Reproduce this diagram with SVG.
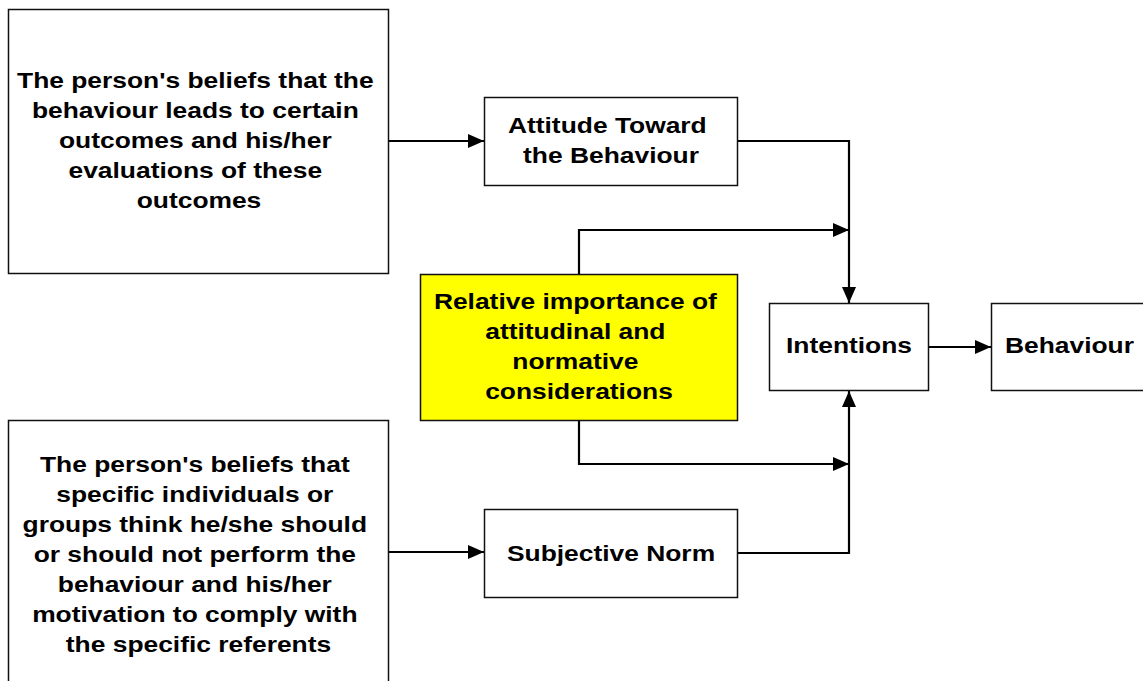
<svg xmlns="http://www.w3.org/2000/svg" width="1143" height="681" viewBox="0 0 1143 681">
<style>
.box{fill:#fff;stroke:#111;stroke-width:1.5}
.yel{fill:#ffff00;stroke:#111;stroke-width:1.5}
.t{font-family:"Liberation Sans",Arial,sans-serif;font-weight:bold;font-size:22px;fill:#000;text-anchor:middle}
.c{fill:none;stroke:#000;stroke-width:2.2}
</style>
<defs>
<marker id="ah" markerUnits="userSpaceOnUse" markerWidth="17" markerHeight="15" refX="16" refY="7" orient="auto" viewBox="0 0 17 15">
<path d="M0,0 L16,7 L0,14 z" fill="#000"/>
</marker>
</defs>
<rect width="1143" height="681" fill="#fff"/>
<g id="connectors">
<path class="c" d="M389,141 H484" marker-end="url(#ah)"/>
<path class="c" d="M389,552 H484" marker-end="url(#ah)"/>
<path class="c" d="M738,141 H849 V303" marker-end="url(#ah)"/>
<path class="c" d="M738,553 H849 V391" marker-end="url(#ah)"/>
<path class="c" d="M579,274 V230 H849" marker-end="url(#ah)"/>
<path class="c" d="M579,421 V464 H849" marker-end="url(#ah)"/>
<path class="c" d="M929,347 H991" marker-end="url(#ah)"/>
</g>
<g id="beliefs-outcomes">
<rect class="box" x="8.5" y="9.5" width="380" height="264"/>
<text class="t" transform="translate(199 0) scale(1.2 1)">
<tspan x="0" y="88">The person's beliefs that the</tspan>
<tspan x="0" y="118">behaviour leads to certain</tspan>
<tspan x="0" y="148">outcomes and his/her</tspan>
<tspan x="0" y="178">evaluations of these</tspan>
<tspan x="0" y="208">outcomes</tspan>
</text>
</g>
<g id="beliefs-referents">
<rect class="box" x="8.5" y="420.5" width="380" height="280"/>
<text class="t" transform="translate(198.5 0) scale(1.2 1)">
<tspan x="0" y="472">The person's beliefs that</tspan>
<tspan x="0" y="502">specific individuals or</tspan>
<tspan x="0" y="532">groups think he/she should</tspan>
<tspan x="0" y="562">or should not perform the</tspan>
<tspan x="0" y="592">behaviour and his/her</tspan>
<tspan x="0" y="622">motivation to comply with</tspan>
<tspan x="0" y="652">the specific referents</tspan>
</text>
</g>
<g id="attitude">
<rect class="box" x="484.5" y="97.5" width="253" height="88"/>
<text class="t" transform="translate(611 0) scale(1.2 1)">
<tspan x="0" y="133">Attitude Toward</tspan>
<tspan x="0" y="163">the Behaviour</tspan>
</text>
</g>
<g id="relative-importance">
<rect class="yel" x="420.5" y="274.5" width="317" height="146"/>
<text class="t" transform="translate(579 0) scale(1.2 1)">
<tspan x="0" y="309">Relative importance of</tspan>
<tspan x="0" y="339">attitudinal and</tspan>
<tspan x="0" y="369">normative</tspan>
<tspan x="0" y="399">considerations</tspan>
</text>
</g>
<g id="intentions">
<rect class="box" x="769.5" y="303.5" width="159" height="87"/>
<text class="t" transform="translate(849 0) scale(1.2 1)"><tspan x="0" y="353">Intentions</tspan></text>
</g>
<g id="behaviour">
<rect class="box" x="991.5" y="303.5" width="160" height="87"/>
<text class="t" transform="translate(1069.5 0) scale(1.2 1)"><tspan x="0" y="353">Behaviour</tspan></text>
</g>
<g id="subjective-norm">
<rect class="box" x="484.5" y="509.5" width="253" height="88"/>
<text class="t" transform="translate(611 0) scale(1.2 1)"><tspan x="0" y="561">Subjective Norm</tspan></text>
</g>
</svg>
